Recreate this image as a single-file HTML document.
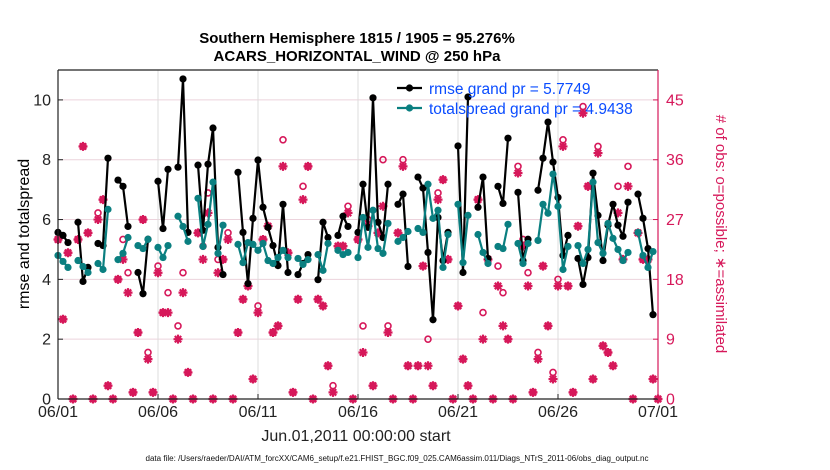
<!DOCTYPE html>
<html><head><meta charset="utf-8">
<style>
html,body{margin:0;padding:0;background:#fff;}
svg{display:block;font-family:"Liberation Sans",Arial,sans-serif;}
</style></head>
<body>
<svg id="chart" width="830" height="470" viewBox="0 0 830 470">
  <rect x="0" y="0" width="830" height="470" fill="#fff"/>
  <text x="357" y="43" text-anchor="middle" font-size="15" font-weight="bold">Southern Hemisphere 1815 / 1905 = 95.276%</text>
  <text x="357" y="61" text-anchor="middle" font-size="15" font-weight="bold">ACARS_HORIZONTAL_WIND @ 250 hPa</text>
  <g id="grid"></g>
  <g id="obs"></g>
  <g id="lines"></g>
  <g id="axes"></g>
  <text transform="translate(29,234) rotate(-90)" text-anchor="middle" font-size="16">rmse and totalspread</text>
  <text transform="translate(716,234) rotate(90)" text-anchor="middle" font-size="15" fill="#d6185a"># of obs: o=possible; ∗=assimilated</text>
  <text x="356" y="441" text-anchor="middle" font-size="16" fill="#222">Jun.01,2011 00:00:00 start</text>
  <text x="397" y="461" text-anchor="middle" font-size="8" textLength="503" lengthAdjust="spacingAndGlyphs" fill="#111">data file: /Users/raeder/DAI/ATM_forcXX/CAM6_setup/f.e21.FHIST_BGC.f09_025.CAM6assim.011/Diags_NTrS_2011-06/obs_diag_output.nc</text>
  <g id="legend">
    <g>
      <line x1="397" y1="88" x2="422" y2="88" stroke="#000" stroke-width="2.2"/>
      <circle cx="409.5" cy="88" r="3.6" fill="#000"/>
      <text x="429" y="94" font-size="15.5" fill="#0a4cff">rmse grand pr = 5.7749</text>
    </g>
    <g>
      <line x1="397" y1="108" x2="422" y2="108" stroke="#0a7f80" stroke-width="2.2"/>
      <circle cx="409.5" cy="108" r="3.6" fill="#0a7f80"/>
      <text x="429" y="114" font-size="15.5" fill="#0a4cff">totalspread grand pr = 4.9438</text>
    </g>
  </g>
</svg>
<script>
const xTickLabels = ["06/01","06/06","06/11","06/16","06/21","06/26","07/01"];
const leftTicks = [0,2,4,6,8,10];
const rightTicks = [0,9,18,27,36,45];
const rmse = [5.57,5.47,5.23,null,5.91,3.93,4.40,null,5.20,5.13,8.05,null,7.32,7.11,5.77,null,4.23,3.52,5.34,null,
7.28,5.70,7.68,null,7.75,10.70,5.57,null,7.82,5.64,7.85,9.06,5.07,4.16,null,null,7.58,5.57,3.86,6.04,
7.99,6.41,5.74,5.13,4.46,6.51,4.23,null,4.16,4.53,4.83,null,3.99,5.91,5.40,null,5.47,6.11,5.77,null,
5.57,7.18,5.74,10.07,5.91,5.40,7.18,null,6.51,6.85,4.43,null,7.42,7.05,4.9,2.65,6.07,4.63,5.57,null,
8.46,4.23,10.10,null,6.41,7.42,4.70,null,7.11,6.54,8.72,null,6.91,4.63,5.34,null,6.98,8.05,9.26,7.92,
6.74,4.80,5.47,null,4.70,3.83,4.73,7.55,6.14,4.63,5.81,6.51,5.81,5.44,6.58,null,6.85,6.04,5.03,2.82,null];
const totalspread = [4.80,4.60,4.40,null,4.63,4.43,4.23,null,4.53,4.33,6.34,null,4.66,4.87,5.40,null,5.13,5.03,5.34,null,
5.07,4.73,5.13,null,6.11,5.77,5.27,null,6.71,5.10,5.84,7.25,4.87,5.81,null,null,5.17,4.56,5.23,5.17,
4.97,5.20,4.63,4.53,4.73,4.97,4.73,null,4.70,4.50,4.66,null,4.83,4.30,5.20,null,4.97,4.83,4.90,null,
4.73,6.07,5.07,6.31,5.03,4.87,5.87,null,5.27,5.40,5.60,null,5.70,5.57,7.18,6.04,6.31,4.40,5.50,null,
6.51,4.56,6.14,null,5.50,4.90,4.53,null,5.10,5.03,5.84,null,5.20,4.53,5.20,null,5.30,6.51,6.21,7.52,
6.44,4.33,5.10,null,5.13,4.53,5.00,7.25,5.23,4.87,5.87,5.37,5.00,4.63,4.90,null,5.57,4.80,4.40,4.93,null];
const obsAssimilated = [24,12,22,0,24,38,25,0,27,30, 2,0,18,21,16,1,10,27,6,1, 19,13,13,0,9,16,4,0,25,21,
28,0,19,21,24,0,10,15,17,3, 13,24,26,10,11,35,22,1,15,30, 35,0,15,14,5,1,23,23,28,0,
24,7,26,2,25,29,10,0,25,35, 5,0,5,20,5,2,30,33,21,0, 14,6,2,0,30,9,21,0,17,11,
9,0,34,23,17,1,6,20,11,3, 17,38,17,1,26,43,32,3,37,8, 7,5,28,21,32,0,25,21,21,3, 0];
const obsPossible = [24,12,22,0,24,38,25,0,28,30, 2,0,18,24,19,1,10,27,7,1, 20,13,16,0,11,19,4,0,25,23,
31,0,21,21,25,0,10,15,17,3, 14,24,26,10,11,39,22,1,15,32, 35,0,15,14,5,2,23,23,29,0,
24,11,27,2,25,36,11,0,25,36, 5,0,5,20,9,2,31,33,21,0, 14,6,2,0,30,13,21,0,20,16,
9,0,35,24,19,1,7,20,11,4, 18,39,17,1,26,44,32,3,38,8, 7,5,32,21,35,0,25,21,21,3, 0];

const NS = "http://www.w3.org/2000/svg";
const X0 = 58, X1 = 658, Y0 = 399, YT = 70;
const nSlots = 120;
function xScale(i){ return X0 + (X1 - X0) * i / nSlots; }
function yLeft(v){ return Y0 - (Y0 - YT) * v / 11; }
function yRight(c){ return Y0 - (Y0 - YT) * c / 49.5; }
function mk(tag, attrs, parent){
  const e = document.createElementNS(NS, tag);
  for (const k in attrs) e.setAttribute(k, attrs[k]);
  parent.appendChild(e);
  return e;
}
const grid = document.getElementById('grid');
const axes = document.getElementById('axes');
const obs = document.getElementById('obs');
const lines = document.getElementById('lines');
const PINK = "#d6185a";

rightTicks.forEach(function(t){
  if (t === 0) return;
  const l = mk('line', {x1:X0, x2:X1, y1:yRight(t), y2:yRight(t), stroke:"#ecd3dc", "stroke-width":1}, grid);
  
  
});
xTickLabels.forEach(function(lab, k){
  const x = xScale(k * 20);
  if (k > 0 && k < xTickLabels.length - 1) {
    const g = mk('line', {x1:x, x2:x, y1:YT, y2:Y0, stroke:"#dcdcdc", "stroke-width":1}, grid);
    
    
  }
  const tk = mk('line', {x1:x, x2:x, y1:Y0, y2:Y0-5, stroke:"#222", "stroke-width":1}, axes);
  
  
  const tx = mk('text', {x:x, y:Y0+18, "text-anchor":"middle", "font-size":16, fill:"#222"}, axes);
  tx.textContent = lab;
  
  
});
leftTicks.forEach(function(t){
  const y = yLeft(t);
  const tk = mk('line', {x1:X0, x2:X0+5, y1:y, y2:y, stroke:"#222", "stroke-width":1}, axes);
  
  
  const tx = mk('text', {x:X0-7, y:y+5.5, "text-anchor":"end", "font-size":16, fill:"#222"}, axes);
  tx.textContent = String(t);
  
  
});
rightTicks.forEach(function(t){
  const y = yRight(t);
  const tk = mk('line', {x1:X1-5, x2:X1, y1:y, y2:y, stroke:PINK, "stroke-width":1}, axes);
  
  
  const tx = mk('text', {x:X1+8, y:y+5.5, "text-anchor":"start", "font-size":16, fill:PINK}, axes);
  tx.textContent = String(t);
  
  
});
const fr = [[X0,YT,X1,YT,"#222"],[X0,YT,X0,Y0,"#222"],[X0,Y0,X1,Y0,"#222"],[X1,YT,X1,Y0,PINK]];
fr.forEach(function(f){
  const l = mk('line', {x1:f[0], y1:f[1], x2:f[2], y2:f[3], stroke:f[4], "stroke-width":1.2}, axes);
  
  
});

obsPossible.forEach(function(c, i){
  if (c == null) return;
  const e = mk('circle', {cx:xScale(i), cy:yRight(c), r:3, fill:"none", stroke:PINK, "stroke-width":1.6}, obs);
  
  
});
obsAssimilated.forEach(function(c, i){
  if (c == null) return;
  const cx = xScale(i), cy = yRight(c);
  const d = "M"+(cx-4.5)+","+cy+"H"+(cx+4.5)+"M"+cx+","+(cy-4.5)+"V"+(cy+4.5)+
            "M"+(cx-3.2)+","+(cy-3.2)+"L"+(cx+3.2)+","+(cy+3.2)+"M"+(cx-3.2)+","+(cy+3.2)+"L"+(cx+3.2)+","+(cy-3.2);
  const e = mk('path', {d:d, stroke:PINK, "stroke-width":2.2, fill:"none"}, obs);
  
  
  const dot = mk('circle', {cx:cx, cy:cy, r:2.6, fill:PINK}, obs);
  
  
});

function drawSeries(vals, color, name){
  let d = "", pen = false;
  vals.forEach(function(v, i){
    if (v == null) { pen = false; return; }
    d += (pen ? "L" : "M") + xScale(i).toFixed(1) + "," + yLeft(v).toFixed(1);
    pen = true;
  });
  const p = mk('path', {d:d, stroke:color, "stroke-width":2.2, fill:"none", "stroke-linejoin":"round"}, lines);
  
  
  vals.forEach(function(v, i){
    if (v == null) return;
    const c = mk('circle', {cx:xScale(i), cy:yLeft(v), r:3.6, fill:color}, lines);
    
    
  });
}
drawSeries(rmse, "#000", "rmse");
drawSeries(totalspread, "#0a7f80", "totalspread");
</script>
</body></html>
